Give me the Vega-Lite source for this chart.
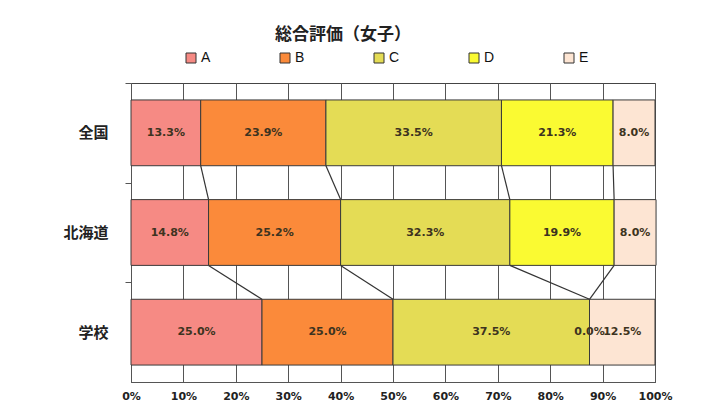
{
  "$schema": "https://vega.github.io/schema/vega-lite/v6.json",
  "width": 524,
  "height": 299,
  "autosize": {"type": "none"},
  "padding": {"left": 131, "top": 83, "right": 51, "bottom": 25},
  "background": "white",
  "title": {
    "text": "総合評価（女子）",
    "font": "Noto Sans CJK JP",
    "fontSize": 17,
    "fontWeight": "bold",
    "color": "#222",
    "anchor": "middle",
    "dx": -50,
    "offset": 7
  },
  "data": {
    "values": [
      {"region": "全国", "n": 1, "grade": "A", "value": 0.133},
      {"region": "全国", "n": 1, "grade": "B", "value": 0.239},
      {"region": "全国", "n": 1, "grade": "C", "value": 0.335},
      {"region": "全国", "n": 1, "grade": "D", "value": 0.213},
      {"region": "全国", "n": 1, "grade": "E", "value": 0.080},
      {"region": "北海道", "n": 2, "grade": "A", "value": 0.148},
      {"region": "北海道", "n": 2, "grade": "B", "value": 0.252},
      {"region": "北海道", "n": 2, "grade": "C", "value": 0.323},
      {"region": "北海道", "n": 2, "grade": "D", "value": 0.199},
      {"region": "北海道", "n": 2, "grade": "E", "value": 0.080},
      {"region": "学校", "n": 3, "grade": "A", "value": 0.250},
      {"region": "学校", "n": 3, "grade": "B", "value": 0.250},
      {"region": "学校", "n": 3, "grade": "C", "value": 0.375},
      {"region": "学校", "n": 3, "grade": "D", "value": 0.000},
      {"region": "学校", "n": 3, "grade": "E", "value": 0.125}
    ]
  },
  "encoding": {
    "y": {
      "field": "region",
      "type": "nominal",
      "sort": ["全国", "北海道", "学校"],
      "scale": {"paddingInner": 0.34, "paddingOuter": 0.17},
      "axis": {
        "title": null,
        "labelFont": "Noto Sans CJK JP",
        "labelFontSize": 15,
        "labelFontWeight": "bold",
        "labelColor": "#222",
        "labelPadding": 17,
        "tickOffset": -50,
        "labelOffset": 50,
        "tickSize": 6,
        "tickColor": "#555",
        "domain": false,
        "grid": false
      }
    }
  },
  "layer": [
    {
      "mark": {"type": "bar", "stroke": "#3a3a3a", "strokeWidth": 1},
      "encoding": {
        "x": {
          "field": "value",
          "type": "quantitative",
          "aggregate": "sum",
          "stack": "zero",
          "scale": {"domain": [0, 1], "nice": false},
          "axis": {
            "title": null,
            "values": [0, 0.1, 0.2, 0.3, 0.4, 0.5, 0.6, 0.7, 0.8, 0.9, 1],
            "format": ".0%",
            "labelFont": "DejaVu Sans",
            "labelFontSize": 11,
            "labelFontWeight": "bold",
            "labelColor": "#222",
            "labelPadding": 8,
            "ticks": false,
            "tickSize": 0,
            "grid": true,
            "gridColor": "#555",
            "gridOpacity": 1,
            "domainColor": "#555",
            "labelFlush": false
          }
        },
        "color": {
          "field": "grade",
          "type": "nominal",
          "scale": {
            "domain": ["A", "B", "C", "D", "E"],
            "range": ["#f68a84", "#fb8a3a", "#e4dc55", "#fafa32", "#fde5d3"]
          },
          "legend": {
            "title": null,
            "orient": "none",
            "legendX": 53,
            "legendY": -32,
            "direction": "horizontal",
            "columns": 5,
            "columnPadding": 67,
            "symbolType": "square",
            "symbolSize": 100,
            "symbolStrokeColor": "#333",
            "symbolStrokeWidth": 1,
            "labelFont": "Liberation Sans",
            "labelFontSize": 14,
            "labelColor": "#111",
            "labelOffset": 3
          }
        }
      }
    },
    {
      "mark": {"type": "text", "font": "DejaVu Sans", "fontSize": 11, "fontWeight": "bold", "color": "#3d3320"},
      "encoding": {
        "x": {
          "field": "value",
          "type": "quantitative",
          "aggregate": "sum",
          "stack": "zero",
          "bandPosition": 0.5
        },
        "detail": {"field": "grade", "type": "nominal"},
        "text": {"field": "value", "type": "quantitative", "aggregate": "sum", "format": ".1%"}
      }
    },
    {
      "transform": [
        {"stack": "value", "groupby": ["region"], "sort": [{"field": "grade"}], "as": ["s", "e"]},
        {"window": [{"op": "lead", "field": "e", "as": "e2"}, {"op": "lead", "field": "region", "as": "r2"}], "groupby": ["grade"], "sort": [{"field": "n"}]},
        {"filter": "datum.r2 != null && datum.grade != 'E'"}
      ],
      "mark": {"type": "rule", "color": "#333", "strokeWidth": 1.2},
      "encoding": {
        "x": {"field": "e", "type": "quantitative"},
        "x2": {"field": "e2"},
        "y": {"field": "region", "type": "nominal", "sort": ["全国", "北海道", "学校"], "bandPosition": 1},
        "y2": {"field": "r2", "bandPosition": 0}
      }
    }
  ],
  "config": {
    "view": {"stroke": "#444", "strokeWidth": 1}
  }
}
